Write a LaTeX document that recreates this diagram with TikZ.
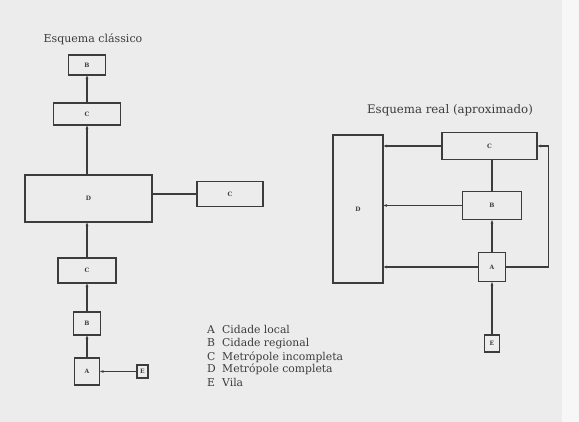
\documentclass[tikz,border=0pt]{standalone}
\usepackage{fontspec}
\setmainfont{DejaVu Serif}
\usetikzlibrary{arrows.meta}
\definecolor{ink}{HTML}{3C3C3C}
\definecolor{paper}{HTML}{ECECEC}
\begin{document}
\begin{tikzpicture}[x=1pt,y=-1pt,
  box/.style={draw=ink,line width=1.2pt,inner sep=0pt,font=\fontsize{6}{7}\selectfont\bfseries,text=ink},
  link/.style={draw=ink,line width=1.2pt},
  arr/.style={link,-{Stealth[length=3.5pt,width=2.8pt]}},
  title/.style={font=\fontsize{11}{13}\selectfont,text=ink,inner sep=0pt},
  leg/.style={font=\fontsize{10.8}{12}\selectfont,text=ink,inner sep=0pt,anchor=base west}]
\fill[paper] (0,0) rectangle (579,422);
\fill[white!60!paper] (562,0) rectangle (579,422);
\useasboundingbox (0,0) rectangle (579,422);

% ---- left: Esquema clássico
\node[title] (tl) at (93,39) {Esquema clássico};
\node[box,minimum width=37pt,minimum height=20pt] (lB1) at (87,65) {B};
\node[box,minimum width=67pt,minimum height=22pt] (lC1) at (87,114) {C};
\node[box,minimum width=127pt,minimum height=47pt] (lD) at (88.5,198.5) {D};
\node[box,minimum width=66pt,minimum height=25pt] (lCr) at (230,194) {C};
\node[box,minimum width=58pt,minimum height=25pt] (lC2) at (87,270.5) {C};
\node[box,minimum width=27pt,minimum height=23pt] (lB2) at (87,323.5) {B};
\node[box,minimum width=25pt,minimum height=27pt] (lA) at (87,371.5) {A};
\node[box,minimum width=11pt,minimum height=13pt] (lE) at (142.5,371.5) {E};

\draw[arr] (lA.north) -- (lB2.south);
\draw[arr] (lB2.north) -- (lC2.south);
\draw[arr] (lC2.north) -- (lD.south -| lC2.north);
\draw[arr] (lD.north -| lC1.south) -- (lC1.south);
\draw[arr] (lC1.north) -- (lB1.south);
\draw[link] (lCr.west -| lD.east) -- (lCr.west);
\draw[arr] (lE.west) -- (lA.east);

% ---- legend
\node[leg] (gA) at (207,334) {A};
\node[leg] (gB) at (207,347) {B};
\node[leg] (gC) at (207,360) {C};
\node[leg] (gD) at (207,373) {D};
\node[leg] (gE) at (207,386) {E};
\node[leg] (nA) at (222,334) {Cidade local};
\node[leg] (nB) at (222,347) {Cidade regional};
\node[leg] (nC) at (222,360) {Metrópole incompleta};
\node[leg] (nD) at (222,373) {Metrópole completa};
\node[leg] (nE) at (222,386) {Vila};

% ---- right: Esquema real
\node[title,font=\fontsize{11.8}{14}\selectfont] (tr) at (450,110) {Esquema real (aproximado)};
\node[box,minimum width=50pt,minimum height=148pt] (rD) at (358,209) {D};
\node[box,minimum width=95pt,minimum height=27pt] (rC) at (489.5,146) {C};
\node[box,minimum width=59pt,minimum height=28pt] (rB) at (492,205.5) {B};
\node[box,minimum width=27pt,minimum height=29pt] (rA) at (492,267) {A};
\node[box,minimum width=15pt,minimum height=17pt] (rE) at (492,343.5) {E};

\draw[arr] (rC.west) -- (rC.west -| rD.east);
\draw[arr] (rB.west) -- (rB.west -| rD.east);
\draw[arr] (rA.west) -- (rA.west -| rD.east);
\draw[arr] (rE.north) -- (rA.south);
\draw[arr] (rA.north) -- (rB.south);
\draw[link] (rB.north) -- (rC.south -| rB.north);
\draw[arr] (rA.east) -- ++(42,0) |- (rC.east);
\end{tikzpicture}
\end{document}
